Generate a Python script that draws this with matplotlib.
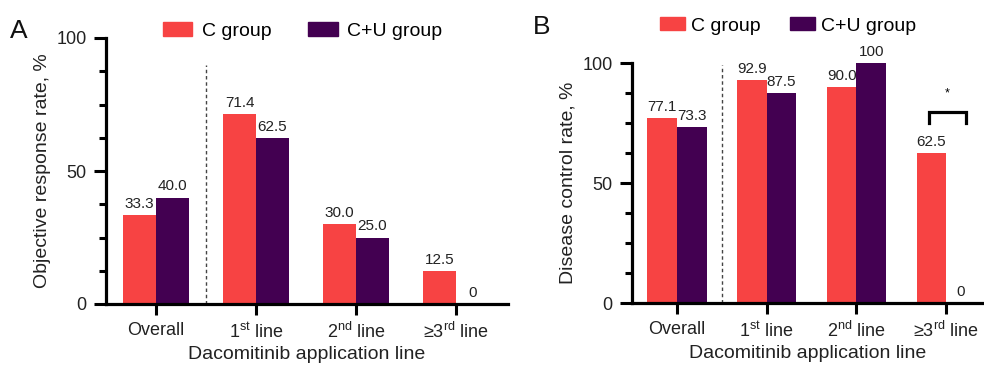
import matplotlib
matplotlib.use("Agg")
import matplotlib.pyplot as plt
from matplotlib.patches import Patch
from matplotlib.ticker import MultipleLocator

plt.rcParams['font.family'] = ['Liberation Sans', 'DejaVu Sans']
plt.rcParams['mathtext.fontset'] = 'custom'
plt.rcParams['mathtext.rm'] = 'Liberation Sans'
plt.rcParams['mathtext.default'] = 'regular'

# datos
categorias = ['Overall', r'1$^{st}$ line', r'2$^{nd}$ line', r'≥3$^{rd}$ line']
orr_c = [33.3, 71.4, 30.0, 12.5]
orr_cu = [40.0, 62.5, 25.0, 0]
dcr_c = [77.1, 92.9, 90.0, 62.5]
dcr_cu = [73.3, 87.5, 100, 0]
grupos = ['C group', 'C+U group']

rojo = '#F74343'
morado = '#430051'
W, H = 984, 369

fig = plt.figure(figsize=(W / 100, H / 100), dpi=100)
axA = fig.add_axes([106 / W, 1 - 304 / H, (508 - 106) / W, (304 - 38) / H])
axB = fig.add_axes([632 / W, 1 - 303 / H, (W - 632) / W, (303 - 63) / H])


def etiqueta(v):
    if v == 0 or v == 100:
        return '%d' % v
    return '%.1f' % v


def dibujar(ax, c, cu, ylabel, xmax, dash_top, ancho=0.33):
    x = list(range(len(categorias)))
    ax.bar([i - ancho for i in x], c, width=ancho, align='edge', color=rojo)
    ax.bar(x, cu, width=ancho, align='edge', color=morado)
    for i in x:
        ax.annotate(etiqueta(c[i]), (i - ancho / 2, c[i]), xytext=(0, 3),
                    textcoords='offset points', ha='center', va='bottom',
                    fontsize=11, color='#222222')
        ax.annotate(etiqueta(cu[i]), (i + ancho / 2, cu[i]), xytext=(0, 3),
                    textcoords='offset points', ha='center', va='bottom',
                    fontsize=11, color='#222222')
    ax.plot([0.5, 0.5], [0, dash_top], ls=(0, (2.5, 2)), lw=1, color='#444444')
    ax.set_xlim(-0.5, xmax)
    ax.set_ylim(0, 100)
    ax.set_xticks(x)
    ax.set_xticklabels(categorias, fontsize=13, color='#222222')
    ax.set_yticks([0, 50, 100])
    ax.tick_params(axis='y', labelsize=13, labelcolor='#222222')
    ax.yaxis.set_minor_locator(MultipleLocator(12.5))
    ax.tick_params(axis='y', which='major', length=9, width=2.2, pad=5)
    ax.tick_params(axis='y', which='minor', length=5, width=2.2)
    ax.tick_params(axis='x', length=8, width=2.2, pad=5, direction='out')
    for s in ['top', 'right']:
        ax.spines[s].set_visible(False)
    for s in ['left', 'bottom']:
        ax.spines[s].set_linewidth(2.3)
    ax.set_xlabel('Dacomitinib application line', fontsize=14, labelpad=3, color='#222222')
    ax.set_ylabel(ylabel, fontsize=14, labelpad=4, color='#222222')


dibujar(axA, orr_c, orr_cu, 'Objective response rate, %', 3.52, 90)
dibujar(axB, dcr_c, dcr_cu, 'Disease control rate, %', 3.42, 99)

# corchete de significancia en el panel B
x1, x2 = 3 - 0.19, 3 + 0.22
axB.plot([x1, x1, x2, x2], [75, 79.6, 79.6, 75], color='black', lw=2.3,
         solid_joinstyle='miter', clip_on=False)
axB.text((x1 + x2) / 2, 85, '*', ha='center', va='bottom', fontsize=9)

# leyendas
manejadores = [Patch(color=rojo, label=grupos[0]), Patch(color=morado, label=grupos[1])]
fig.legend(handles=manejadores, loc='center left', bbox_to_anchor=(163 / W, 1 - 31 / H),
           ncol=2, frameon=False, fontsize=14, handlelength=1.5, handleheight=0.72,
           handletextpad=0.5, columnspacing=1.9, borderpad=0, borderaxespad=0)
fig.legend(handles=manejadores, loc='center left', bbox_to_anchor=(660 / W, 1 - 26 / H),
           ncol=2, frameon=False, fontsize=14, handlelength=1.3, handleheight=0.65,
           handletextpad=0.3, columnspacing=1.5, borderpad=0, borderaxespad=0)

fig.text(10 / W, 1 - 31 / H, 'A', fontsize=19, ha='left', va='center', color='#111111')
fig.text(533 / W, 1 - 27 / H, 'B', fontsize=19, ha='left', va='center', color='#111111')

fig.savefig('out.png', dpi=100)
